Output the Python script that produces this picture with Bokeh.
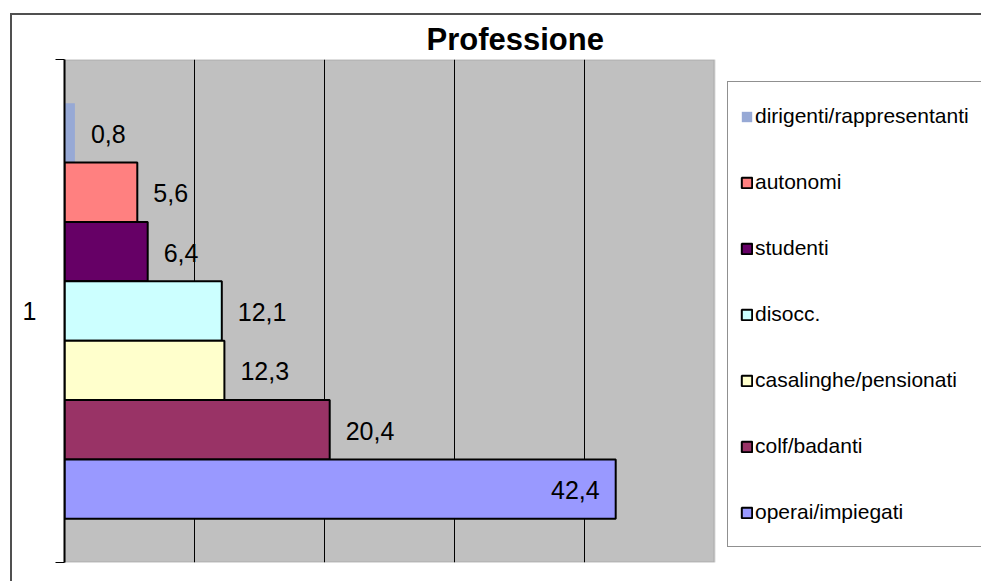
from bokeh.plotting import figure
from bokeh.models import (ColumnDataSource, Range1d, FixedTicker, Legend, LegendItem,
                          InlineStyleSheet, BoxAnnotation)
from bokeh.embed import file_html
from bokeh.resources import INLINE
from bokeh.core.properties import value

# ---------------- data ----------------
title_text = "Professione"
category = "1"
series = ["dirigenti/rappresentanti", "autonomi", "studenti", "disocc.",
          "casalinghe/pensionati", "colf/badanti", "operai/impiegati"]
values = [0.8, 5.6, 6.4, 12.1, 12.3, 20.4, 42.4]
colors = ["#97A9D5", "#FF8080", "#660066", "#CCFFFF", "#FFFFCC", "#993366", "#9999FF"]
grid_ticks = [10, 20, 30, 40]
x_max = 50

# ---------------- layout / style ----------------
FONT = "Liberation Sans"
W, H = 981, 581
LEFT, TOP, BOTTOM = 64, 59, 19
PLOT_W = 650                      # width of the grey plot area in px
x_end = x_max * (W - LEFT) / PLOT_W   # frame extends to the right to host the legend

n = len(series)
BAR_H = 0.118
ys = [1 + ((n - 1) / 2 - i) * BAR_H for i in range(n)]
labels = [f"{v:.1f}".replace(".", ",") for v in values]
imax = values.index(max(values))
line_alpha = [0.0 if i == 0 else 1.0 for i in range(n)]

src = ColumnDataSource(dict(y=ys, v=values, color=colors, la=line_alpha, label=labels))
out_idx = [i for i in range(n) if i != imax]
src_out = ColumnDataSource(dict(y=[ys[i] for i in out_idx], v=[values[i] for i in out_idx],
                                label=[labels[i] for i in out_idx]))
src_in = ColumnDataSource(dict(y=[ys[imax]], v=[values[imax]], label=[labels[imax]]))

p = figure(width=W, height=H, output_backend="svg", toolbar_location=None,
           x_range=Range1d(0, x_end), y_range=Range1d(0.5, 1.5),
           min_border_left=LEFT, min_border_right=0, min_border_top=TOP, min_border_bottom=BOTTOM)

p.background_fill_color = "white"
p.border_fill_color = "white"
p.outline_line_color = None

# grey plot area (0 .. x_max)
plot_area = BoxAnnotation(left=0, right=x_max, fill_color="#C0C0C0", fill_alpha=1,
                          line_color="#808080", line_width=2, level="image")
p.add_layout(plot_area)

p.title.text = title_text
p.title.align = "left"
p.title.offset = 362
p.title.text_font = FONT
p.title.text_font_size = "31px"
p.title.text_font_style = "bold"
p.title.text_color = "black"
p.title.standoff = 6

p.xaxis.visible = False
p.xgrid.ticker = FixedTicker(ticks=grid_ticks)
p.xgrid.grid_line_color = "black"
p.xgrid.grid_line_width = 1
p.ygrid.visible = False

yax = p.yaxis[0]
yax.ticker = FixedTicker(ticks=[1], minor_ticks=[0.5, 1.5])
yax.major_label_overrides = {1: category}
yax.major_tick_out = 0
yax.major_tick_in = 0
yax.minor_tick_out = 9
yax.minor_tick_in = 0
yax.minor_tick_line_color = "black"
yax.axis_line_color = "black"
yax.axis_line_width = 2
yax.major_label_standoff = 19
yax.major_label_text_font = FONT
yax.major_label_text_font_size = "25px"
yax.major_label_text_color = "black"

bars = p.hbar(y="y", left=0, right="v", height=BAR_H, fill_color="color",
              line_color="black", line_alpha="la", line_width=2, source=src)

p.text(x="v", y="y", text="label", source=src_out, x_offset=16, y_offset=1,
       text_align="left", text_baseline="middle", text_font=value(FONT),
       text_font_size="25px", text_color="black")
p.text(x="v", y="y", text="label", source=src_in, x_offset=-16, y_offset=1,
       text_align="right", text_baseline="middle", text_font=value(FONT),
       text_font_size="25px", text_color="black")

legend = Legend(items=[LegendItem(label=s, renderers=[bars], index=i) for i, s in enumerate(series)],
                location=(PLOT_W + 13, 15), margin=0, padding=12, spacing=22,
                glyph_width=13, glyph_height=13, label_height=44, label_standoff=2,
                label_text_font=FONT, label_text_font_size="21px", label_text_color="black",
                border_line_color="#222222", border_line_width=1,
                background_fill_color="white", background_fill_alpha=1)
p.add_layout(legend)

css = (":host { position: relative; } "
       ":host::after { content: ''; position: absolute; left: 10px; top: 13px; right: 0; bottom: 0; "
       "border-left: 2px solid #505050; border-top: 2px solid #505050; pointer-events: none; }")
p.stylesheets = [InlineStyleSheet(css=css)]

open("out.html", "w").write(file_html(p, INLINE))
